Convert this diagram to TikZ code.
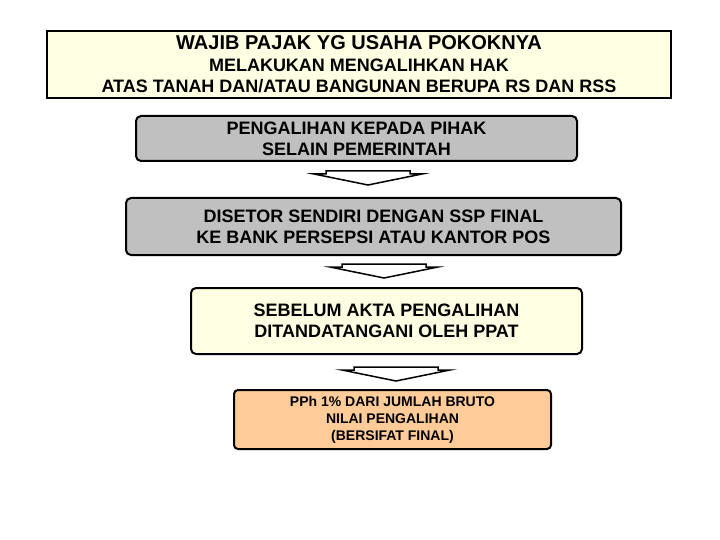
\documentclass[tikz,border=0pt]{standalone}
\usepackage{fontspec}
\setmainfont{Liberation Sans}
\usetikzlibrary{calc, positioning}
\definecolor{mycream}{HTML}{FFFFE3}
\definecolor{mygray}{HTML}{C0C0C0}
\definecolor{mypeach}{HTML}{FFCC99}
\tikzset{box/.style={draw, line width=2pt, align=center, inner sep=0pt, font={\fontsize{18}{21}\selectfont\bfseries}}}
\tikzset{chevron/.style={draw, line width=1.5pt, fill=white, line join=miter}}
\newcommand{\downchev}[1]{%
  \draw[chevron] ($(#1)+(-42,0)$) -- ($(#1)+(42,0)$) -- ($(#1)+(42,3)$) -- ($(#1)+(54,3)$)
    -- ($(#1)+(0,14)$) -- ($(#1)+(-54,3)$) -- ($(#1)+(-42,3)$) -- cycle;}

\begin{document}
\begin{tikzpicture}[x=1pt, y=-1pt]
			\useasboundingbox (0,0) rectangle (720,540);
			\node[box, fill=mycream, minimum width=624pt, minimum height=67pt] (wajib) at (359,64.5)
				{{\fontsize{20}{23}\selectfont WAJIB PAJAK YG USAHA POKOKNYA}\\[1pt]
				MELAKUKAN MENGALIHKAN HAK\\ ATAS TANAH DAN/ATAU BANGUNAN BERUPA RS DAN RSS};
			\node[box, fill=mygray, rounded corners=5pt, minimum width=441pt, minimum height=45pt] (pihak) at (356.5,138.5)
				{PENGALIHAN KEPADA PIHAK\\ SELAIN PEMERINTAH};
			\node[box, fill=mygray, rounded corners=5pt, minimum width=495pt, minimum height=57pt] (setor) at (373.5,226.5)
				{DISETOR SENDIRI DENGAN SSP FINAL\\ KE BANK PERSEPSI ATAU KANTOR POS};
			\node[box, fill=mycream, rounded corners=5pt, minimum width=391pt, minimum height=66pt] (akta) at (386.5,321)
				{SEBELUM AKTA PENGALIHAN\\ DITANDATANGANI OLEH PPAT};
			\node[box, fill=mypeach, rounded corners=4pt, minimum width=317pt, minimum height=59pt,
				font={\fontsize{14}{17}\selectfont\bfseries}] (pph) at (392.5,419.5)
				{PPh 1\% DARI JUMLAH BRUTO\\ NILAI PENGALIHAN\\ (BERSIFAT FINAL)};
			% arrows between the boxes
			\coordinate (ar1) at ($(pihak.south)+(11.5,9)$);
			\coordinate (ar2) at ($(setor.south)+(10.5,8)$);
			\coordinate (ar3) at ($(akta.south)+(9.5,12)$);
			\downchev{ar1}
			\downchev{ar2}
			\downchev{ar3}
		\end{tikzpicture}
\end{document}
